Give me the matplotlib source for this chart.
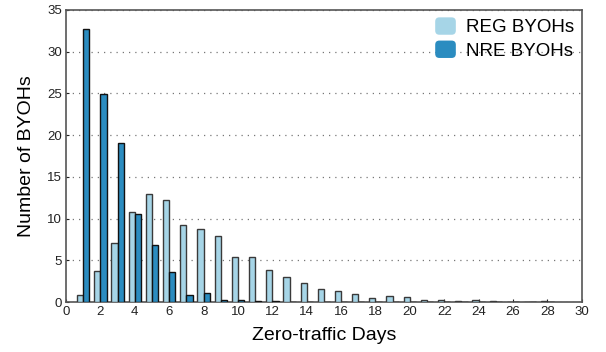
import matplotlib.pyplot as plt
import numpy as np
from matplotlib.patches import FancyBboxPatch, Rectangle
from matplotlib.legend_handler import HandlerPatch

plt.rcParams['font.family'] = ['Liberation Sans', 'DejaVu Sans']

# zero-traffic days and number of BYOHs per group
days = list(range(1, 29))
reg = [0.8, 3.7, 7.1, 10.8, 12.95, 12.2, 9.2, 8.7, 7.9, 5.4,
       5.4, 3.8, 3.05, 2.27, 1.6, 1.28, 0.96, 0.5, 0.68, 0.62,
       0.25, 0.28, 0.12, 0.25, 0.1, 0.05, 0.05, 0.1]
nre = [32.7, 24.9, 19.0, 10.5, 6.8, 3.6, 0.85, 1.05, 0.3, 0.3,
       0.1, 0.1, 0, 0, 0, 0, 0, 0, 0, 0,
       0, 0, 0, 0, 0, 0, 0, 0]

reg_color = '#a6d5e7'
nre_color = '#2b8cc0'
w = 0.36


class RoundedHandle(HandlerPatch):
    # legend swatch drawn as a rounded square without outline
    def create_artists(self, legend, orig_handle, xdescent, ydescent,
                       width, height, fontsize, trans):
        p = FancyBboxPatch((-xdescent + 2, -ydescent + 2), width - 4, height - 4,
                           boxstyle='round,pad=2,rounding_size=3',
                           facecolor=orig_handle.get_facecolor(),
                           edgecolor='none', transform=trans)
        return [p]


fig = plt.figure(figsize=(6.06, 3.52), dpi=100)
ax = fig.add_axes([0.109, 0.142, 0.851, 0.830])

x = np.array(days)
ax.bar(x - w / 2, reg, width=w, color=reg_color, edgecolor='#3a3a3a',
       linewidth=1.0, zorder=3)
ax.bar(x + w / 2, nre, width=w, color=nre_color, edgecolor='#111111',
       linewidth=1.0, zorder=3)

ax.set_xlim(0, 30)
ax.set_ylim(0, 35)
ax.set_xticks(range(0, 31, 2))
ax.set_yticks(range(0, 36, 5))
ax.tick_params(direction='in', length=2, labelsize=9.5, colors='#222222',
               width=0.8, pad=3)
ax.yaxis.grid(True, linestyle=(0, (1, 4)), color='#777777', linewidth=0.9)
ax.set_axisbelow(True)
for s in ax.spines.values():
    s.set_color('#555555')
    s.set_linewidth(1.2)

ax.set_xlabel('Zero-traffic Days', fontsize=14, labelpad=6)
ax.set_ylabel('Number of BYOHs', fontsize=14, labelpad=9)

handles = [Rectangle((0, 0), 1, 1, facecolor=reg_color),
           Rectangle((0, 0), 1, 1, facecolor=nre_color)]
ax.legend(handles, ['REG BYOHs', 'NRE BYOHs'], loc='upper right',
          frameon=False, fontsize=13.5,
          handlelength=1.1, handleheight=1.05, handletextpad=0.55,
          labelspacing=0.22, borderaxespad=0.0,
          handler_map={Rectangle: RoundedHandle()})

fig.savefig('out.png', dpi=100)
